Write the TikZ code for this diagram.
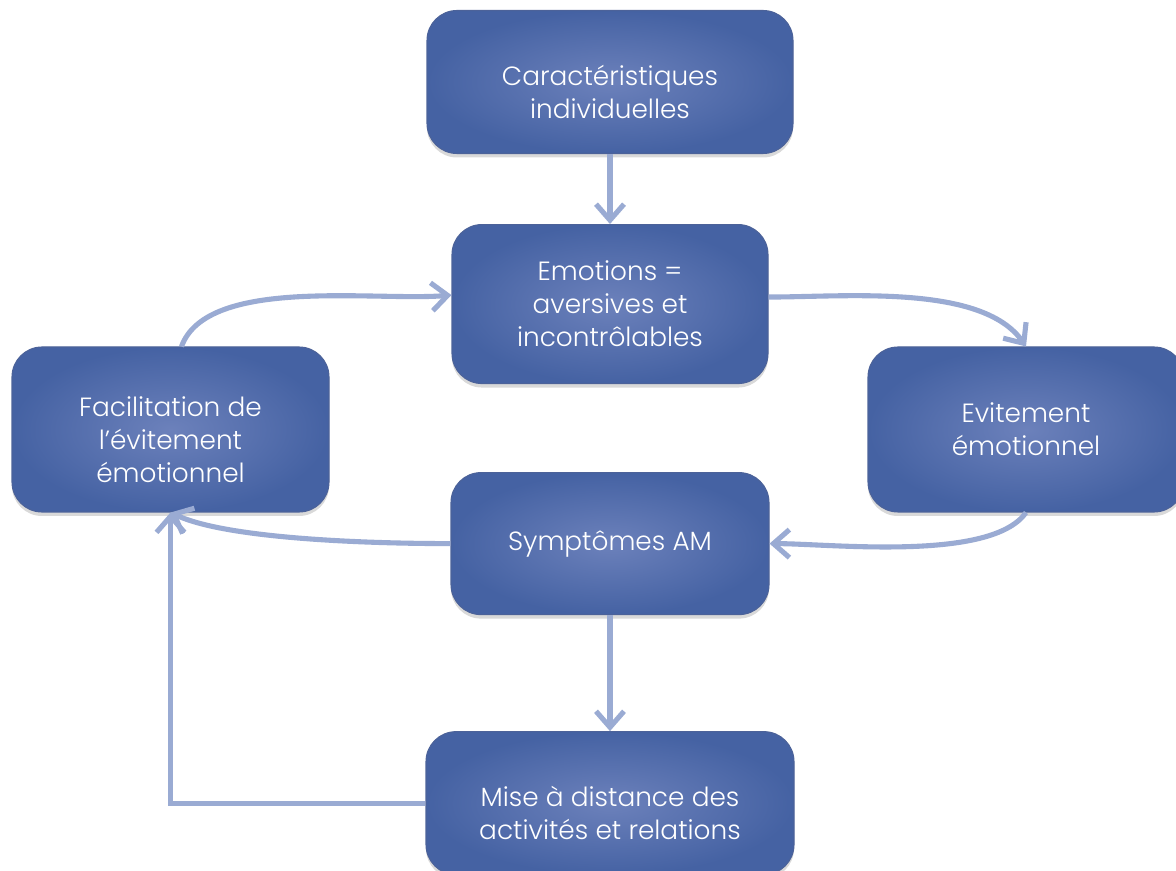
\documentclass[tikz,border=0pt]{standalone}
\usepackage{fontspec}
\setmainfont{Poppins}[UprightFont = * Light]
\usetikzlibrary{arrows.meta,shapes,positioning,shadows}
\definecolor{boxin}{HTML}{6C81BB}
\definecolor{boxout}{HTML}{4562A3}
\definecolor{boxline}{HTML}{4C6299}
\definecolor{linkcol}{HTML}{9AABD3}
\newcommand{\droptext}{\rule{0pt}{1.5em}}
\tikzset{
  box/.style = {
    rectangle, draw=boxline, line width=0.6pt, rounded corners=0.6cm,
    inner color=boxin, outer color=boxout, text=white, align=center,
    font=\fontsize{15}{18.8}\selectfont,
    drop shadow={opacity=0.3, shadow xshift=0cm, shadow yshift=-0.08cm}
  },
  link/.style = {
    draw=linkcol, line width=2.9pt,
    -{Straight Barb[length=3.2mm,width=5.6mm]}
  }
}

\begin{document}
\begin{tikzpicture}
    \useasboundingbox (0,0) rectangle (23.52,17.4);
    \node[box, minimum width=7.32cm, minimum height=2.86cm] (carac) at (12.2,15.76)
      {\droptext Caractéristiques\\individuelles};
    \node[box, minimum width=6.32cm, minimum height=3.18cm, below=1.4cm of carac] (emo)
      {Emotions =\\aversives et\\incontrôlables};
    \node[box, minimum width=6.36cm, minimum height=2.84cm, below=1.76cm of emo] (sympt)
      {Symptômes AM};
    \node[box, minimum width=7.36cm, minimum height=2.86cm, below=2.32cm of sympt] (mise)
      {\droptext Mise à distance des\\activités et relations};
    \node[box, minimum width=6.34cm, minimum height=3.3cm] (facil) at (3.41,8.81)
      {\droptext Facilitation de\\l’évitement\\émotionnel};
    \node[box, minimum width=6.32cm, minimum height=3.3cm] (evit) at (20.52,8.81)
      {Evitement\\émotionnel};

    \path[link] (carac) -- (emo);
    \path[link] ([yshift=0.14cm] emo.east) to[out=0, in=125, looseness=0.75] (evit.north);
    \path[link] (evit.south) to[out=-125, in=0, looseness=0.6] (sympt.east);
    \path[link] (sympt.west) to[out=180, in=-25, looseness=0.6] (facil.south);
    \path[link] (mise.west) -| (facil.south);
    \path[link] ([xshift=0.22cm] facil.north) to[out=70, in=185, looseness=0.7] ([yshift=0.18cm] emo.west);
    \path[link] (sympt) -- (mise);
  \end{tikzpicture}
\end{document}
